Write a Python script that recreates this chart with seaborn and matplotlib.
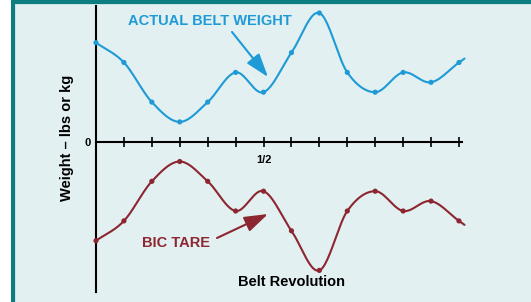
import numpy as np
import pandas as pd
import matplotlib
matplotlib.use("Agg")
import matplotlib.pyplot as plt
from matplotlib.patches import Rectangle
import seaborn as sns

# ---- data ----
revolution_steps = list(range(14))  # 12 steps = one belt revolution
actual_belt_weight = [10, 8, 4, 2, 4, 7, 5, 9, 13, 7, 5, 7, 6, 8]
bic_tare = [-10, -8, -4, -2, -4, -7, -5, -9, -13, -7, -5, -7, -6, -8]
tick_positions = list(range(1, 14))
tick_labels = ["" if t != 6 else "1/2" for t in tick_positions]

BLUE = "#1e9ad6"
RED = "#8c2630"
BG = "#e3f0f2"
TEAL = "#0c7d80"

sns.set_theme(style="white")
plt.rcParams["font.family"] = ["Liberation Sans", "DejaVu Sans"]
plt.rcParams["font.weight"] = "bold"


def smooth(xs, ys, n=24, ext=0.2):
    P = np.column_stack([xs, ys]).astype(float)
    P = np.vstack([2 * P[0] - P[1], P, 2 * P[-1] - P[-2]])
    out = []
    for i in range(1, len(P) - 2):
        p0, p1, p2, p3 = P[i - 1], P[i], P[i + 1], P[i + 2]
        t = np.linspace(0, 1, n, endpoint=False)[:, None]
        seg = 0.5 * (2 * p1 + (-p0 + p2) * t + (2 * p0 - 5 * p1 + 4 * p2 - p3) * t ** 2
                     + (-p0 + 3 * p1 - 3 * p2 + p3) * t ** 3)
        out.append(seg)
    out.append(P[-2][None, :])
    out.append((P[-2] + ext * (P[-2] - P[-3]))[None, :])
    c = np.vstack(out)
    return pd.DataFrame({"x": c[:, 0], "y": c[:, 1]})


W, H = 531, 302
fig = plt.figure(figsize=(W / 100, H / 100), dpi=100, facecolor="white")
fig.patches.append(Rectangle((11 / W, 0), 1, 1, transform=fig.transFigure,
                             facecolor=TEAL, edgecolor="none", zorder=-3))
fig.patches.append(Rectangle((15 / W, 0), 1, (H - 4) / H, transform=fig.transFigure,
                             facecolor="#c4e4e8", edgecolor="none", zorder=-2))
fig.patches.append(Rectangle((16 / W, 0), 1, (H - 5) / H, transform=fig.transFigure,
                             facecolor=BG, edgecolor="none", zorder=-1))

ax = fig.add_axes([0, 0, 1, 1])
ax.set_facecolor("none")

px_x = 27.92  # pixels per step
px_y = 9.9    # pixels per unit
x0, y0 = 96, 141.7
ax.set_xlim(-x0 / px_x, (W - x0) / px_x)
ax.set_ylim(-(H - y0) / px_y, y0 / px_y)

df_blue = pd.DataFrame({"x": revolution_steps, "y": actual_belt_weight})
df_red = pd.DataFrame({"x": revolution_steps, "y": bic_tare})

sns.lineplot(data=smooth(revolution_steps, actual_belt_weight), x="x", y="y",
             sort=False, estimator=None, color=BLUE, lw=1.5, ax=ax)
sns.scatterplot(data=df_blue, x="x", y="y", color=BLUE, s=14, edgecolor="none", ax=ax, zorder=3)
sns.lineplot(data=smooth(revolution_steps, bic_tare), x="x", y="y",
             sort=False, estimator=None, color=RED, lw=1.5, ax=ax)
sns.scatterplot(data=df_red, x="x", y="y", color=RED, s=14, edgecolor="none", ax=ax, zorder=3)

# axes styling
for s in ["top", "right"]:
    ax.spines[s].set_visible(False)
ax.spines["left"].set_position(("data", 0))
ax.spines["bottom"].set_position(("data", 0))
ax.spines["left"].set_bounds(-(292 - y0) / px_y, (y0 - 6) / px_y)
ax.spines["bottom"].set_bounds(0, (462 - x0) / px_x)
for s in ["left", "bottom"]:
    ax.spines[s].set_color("black")
    ax.spines[s].set_linewidth(1.5)

ax.set_xticks(tick_positions)
ax.set_xticklabels(tick_labels, fontsize=8, fontweight="bold")
ax.tick_params(axis="x", direction="inout", length=6.5, width=1.2, color="black",
               pad=6, labelcolor="black", bottom=True)
ax.set_yticks([0])
ax.set_yticklabels(["0"], fontsize=8, fontweight="bold")
ax.tick_params(axis="y", length=0, pad=4, labelcolor="black")
ax.set_xlabel("")
ax.set_ylabel("")

def d(px, py):
    return ((px - x0) / px_x, (y0 - py) / px_y)

ax.text(*d(210, 21), "ACTUAL BELT WEIGHT", color=BLUE, fontsize=10.5,
        fontweight="bold", ha="center", va="center")
ax.annotate("", xy=d(268, 77), xytext=d(232, 32),
            arrowprops=dict(arrowstyle="-|>,head_length=0.9,head_width=0.3",
                            color=BLUE, lw=1.5, mutation_scale=16, shrinkA=0, shrinkB=0))
ax.text(*d(176, 243), "BIC TARE", color=RED, fontsize=10.5,
        fontweight="bold", ha="center", va="center")
ax.annotate("", xy=d(268, 214), xytext=d(217, 238),
            arrowprops=dict(arrowstyle="-|>,head_length=0.9,head_width=0.3",
                            color=RED, lw=1.5, mutation_scale=16, shrinkA=0, shrinkB=0))
ax.text(*d(291, 282), "Belt Revolution", color="black", fontsize=10.5,
        fontweight="bold", ha="center", va="center")
fig.text(67 / W, 1 - 138 / H, "Weight – lbs or kg", rotation=90, color="black",
         fontsize=10.5, fontweight="bold", ha="center", va="center")

fig.savefig("out.png", dpi=100, facecolor="white")
